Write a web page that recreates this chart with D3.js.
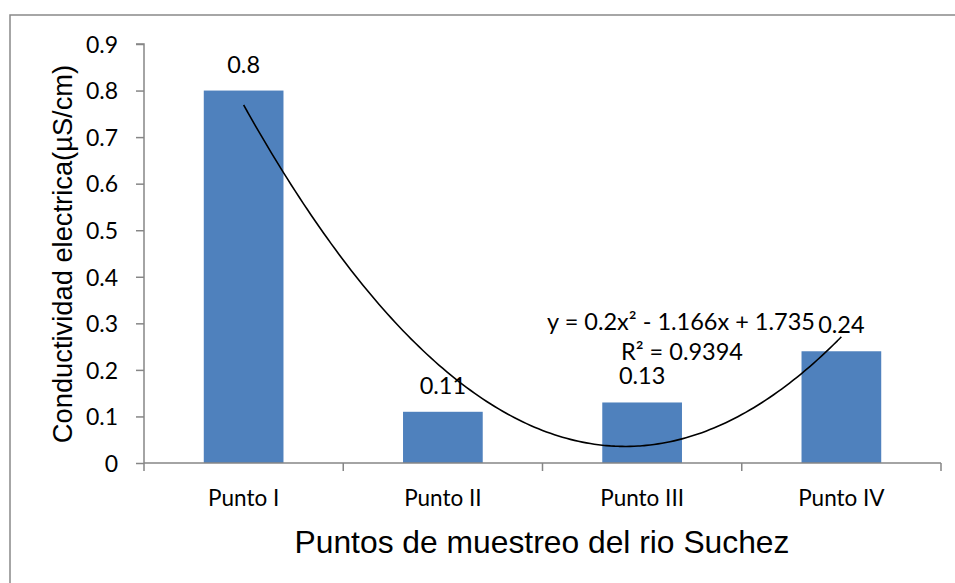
<!DOCTYPE html>
<html>
<head>
<meta charset="utf-8">
<script src="https://cdn.jsdelivr.net/npm/d3@7/dist/d3.min.js"></script>
<style>
  html, body { margin: 0; padding: 0; background: #fff; }
  svg { display: block; }
</style>
</head>
<body>
<svg id="chart" width="955" height="583"></svg>
<script>
// ---- data ----
const categories = ["Punto I", "Punto II", "Punto III", "Punto IV"];
const values = [0.8, 0.11, 0.13, 0.24];
const valueLabels = ["0.8", "0.11", "0.13", "0.24"];
const yTicks = [0, 0.1, 0.2, 0.3, 0.4, 0.5, 0.6, 0.7, 0.8, 0.9];
const trendCoef = [0.2, -1.166, 1.735]; // a x^2 + b x + c, x = 1..4
const trendText = ["y = 0.2x² - 1.166x + 1.735", "R² = 0.9394"];
const xTitle = "Puntos de muestreo del rio Suchez";
const yTitle = "Conductividad electrica(µS/cm)";

// ---- layout ----
const W = 955, H = 583;
const plot = { left: 144, right: 941, top: 44, bottom: 463 };
const svg = d3.select("#chart");
const axisColor = "#868686";
const numFont = "Lato, 'Open Sans', sans-serif";
const titleFont = "'Liberation Sans', Arial, sans-serif";

// outer frame (extends beyond viewport on right & bottom)
svg.append("path")
  .attr("d", `M10,${H + 5} L10,15 L${W + 5},15`)
  .attr("fill", "none").attr("stroke", "#898989").attr("stroke-width", 1.5);

const x = d3.scaleBand().domain(categories).range([plot.left, plot.right]).padding(0);
const y = d3.scaleLinear().domain([0, 0.9]).range([plot.bottom, plot.top]);
const barW = x.bandwidth() * 0.4;

// bars
svg.append("g").selectAll("rect").data(values).join("rect")
  .attr("x", (d, i) => x(categories[i]) + x.bandwidth() / 2 - barW / 2)
  .attr("y", d => y(d))
  .attr("width", barW)
  .attr("height", d => y(0) - y(d))
  .attr("fill", "#4F81BD");

// y axis
const yAxis = d3.axisLeft(y).tickValues(yTicks).tickSize(8).tickPadding(18)
  .tickFormat(d => d === 0 ? "0" : d3.format(".1f")(d));
const gy = svg.append("g").attr("transform", `translate(${plot.left},0)`).call(yAxis);
gy.select(".domain").attr("stroke", axisColor).attr("stroke-width", 1.5)
  .attr("d", `M-8,${y(0.9)}H0V${y(0)}`);
gy.selectAll(".tick line").attr("stroke", axisColor).attr("stroke-width", 1.5);
gy.selectAll(".tick text").attr("font-family", numFont).attr("font-size", 23)
  .attr("fill", "#000").attr("dy", "0.36em");

// x axis
const xAxis = d3.axisBottom(x).tickSize(0).tickPadding(27);
const gx = svg.append("g").attr("transform", `translate(0,${plot.bottom})`).call(xAxis);
gx.select(".domain").attr("stroke", axisColor).attr("stroke-width", 1.5)
  .attr("d", `M${plot.left},0H${plot.right}`);
gx.selectAll(".tick text").attr("font-family", numFont).attr("font-size", 22.5)
  .attr("fill", "#000").attr("dy", "0.71em");
// category boundary ticks
const bounds = categories.map(c => x(c)).concat([x(categories[categories.length - 1]) + x.bandwidth()]);
gx.append("g").selectAll("line").data(bounds).join("line")
  .attr("x1", d => d).attr("x2", d => d).attr("y1", 0).attr("y2", 8)
  .attr("stroke", axisColor).attr("stroke-width", 1.5);

// trendline (polynomial order 2), x = category index 1..4
const trendX = d => x(categories[0]) + x.bandwidth() / 2 + (d - 1) * x.step();
const poly = t => trendCoef[0] * t * t + trendCoef[1] * t + trendCoef[2];
const ts = d3.range(1, 4.0001, 0.02);
svg.append("path")
  .datum(ts)
  .attr("d", d3.line().x(t => trendX(t)).y(t => y(poly(t))).curve(d3.curveBasis))
  .attr("fill", "none").attr("stroke", "#000").attr("stroke-width", 1.6);

// data labels
svg.append("g").selectAll("text").data(values).join("text")
  .attr("x", (d, i) => x(categories[i]) + x.bandwidth() / 2)
  .attr("y", d => y(d) - 18)
  .attr("text-anchor", "middle")
  .attr("font-family", numFont).attr("font-size", 23.5).attr("fill", "#000")
  .text((d, i) => valueLabels[i]);

// trend equation
const eq = svg.append("g").attr("font-family", numFont).attr("font-size", 23.5)
  .attr("fill", "#000").attr("text-anchor", "middle");
eq.append("text").attr("x", 681).attr("y", 330).text(trendText[0]);
eq.append("text").attr("x", 682).attr("y", 360).text(trendText[1]);

// axis titles
svg.append("text").attr("x", (plot.left + plot.right) / 2 - 0.5).attr("y", 553)
  .attr("text-anchor", "middle").attr("font-family", titleFont).attr("font-size", 31.8)
  .attr("fill", "#000").text(xTitle);
svg.append("text").attr("transform", `translate(72,254) rotate(-90)`)
  .attr("text-anchor", "middle").attr("font-family", titleFont).attr("font-size", 27.3)
  .attr("fill", "#000").text(yTitle);
</script>
</body>
</html>
